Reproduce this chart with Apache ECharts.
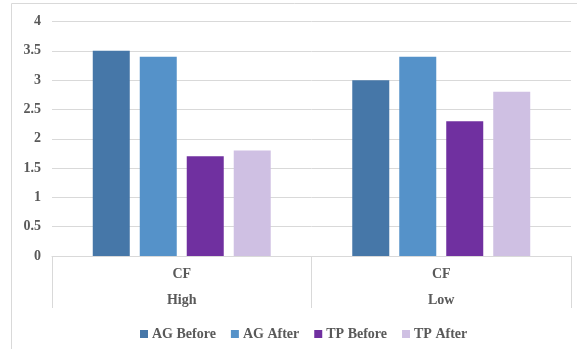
<!DOCTYPE html>
<html>
<head>
<meta charset="utf-8">
<script src="https://cdn.jsdelivr.net/npm/echarts@6/dist/echarts.min.js"></script>
<style>html,body{margin:0;padding:0;background:#fff}#c{width:577px;height:349px}</style>
</head>
<body>
<div id="c"></div>
<script>
const groups = ['High', 'Low'];
const subLabels = ['CF', 'CF'];
const seriesNames = ['AG Before', 'AG After', 'TP Before', 'TP After'];
const agBefore = [3.5, 3.0];
const agAfter = [3.4, 3.4];
const tpBefore = [1.7, 2.3];
const tpAfter = [1.8, 2.8];
const colors = ['#4677A8', '#5592C9', '#7030A0', '#CFC0E3'];
const seriesData = [agBefore, agAfter, tpBefore, tpAfter];

const font = "'Liberation Serif', 'Times New Roman', serif";
const chart = echarts.init(document.getElementById('c'), null, {renderer: 'canvas'});
chart.setOption({
  animation: false,
  textStyle: {fontFamily: font},
  graphic: [{
    type: 'rect', shape: {x: 11.5, y: 3.5, width: 600, height: 400},
    style: {fill: 'none', stroke: '#d9d9d9', lineWidth: 1}, silent: true, z: -10
  }],
  grid: {left: 52, right: 6, top: 21.5, bottom: 93},
  legend: {
    left: 135, top: 322, itemWidth: 8, itemHeight: 8, itemGap: 15,
    icon: 'rect',
    textStyle: {fontFamily: font, fontWeight: 'bold', fontSize: 14, color: '#595959', padding: [0, 0, 0, -1]},
    data: seriesNames
  },
  xAxis: {
    type: 'category',
    data: groups.map((g, i) => subLabels[i] + '\n' + g),
    axisLine: {show: true, lineStyle: {color: '#d9d9d9', width: 1}},
    axisTick: {show: true, length: 52, lineStyle: {color: '#d9d9d9'}},
    axisLabel: {
      margin: 5, fontFamily: font, fontWeight: 'bold', fontSize: 14,
      color: '#595959', lineHeight: 26
    }
  },
  yAxis: {
    type: 'value', min: 0, max: 4, interval: 0.5,
    axisLine: {show: false}, axisTick: {show: false},
    axisLabel: {margin: 11, fontFamily: font, fontWeight: 'bold', fontSize: 14, color: '#595959'},
    splitLine: {lineStyle: {color: '#d9d9d9', width: 1}}
  },
  series: seriesNames.map((n, i) => ({
    name: n, type: 'bar', data: seriesData[i],
    barWidth: 37, barGap: '27%',
    itemStyle: {color: colors[i]}
  }))
});
</script>
</body>
</html>
